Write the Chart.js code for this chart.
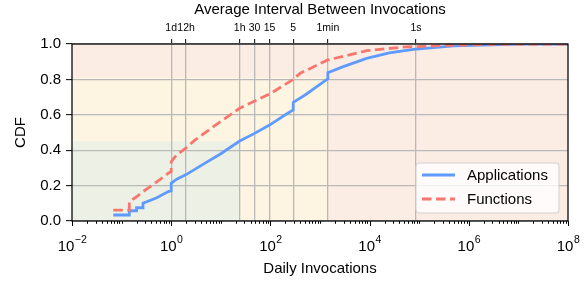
<!DOCTYPE html>
<html>
<head>
<meta charset="utf-8">
<script src="https://cdn.jsdelivr.net/npm/chart.js@4.4.0/dist/chart.umd.min.js"></script>
<style>
  html, body { margin: 0; padding: 0; background: #fff; }
  #wrap { width: 585px; height: 282px; }
</style>
</head>
<body>
<div id="wrap"><canvas id="cdf"></canvas></div>
<script>
// Daily invocations (x) vs CDF (y)
var appX = [0.068, 0.143, 0.143, 0.2, 0.2, 0.27, 0.27, 0.5, 0.875, 1.0, 1.0, 1.29, 2.0, 5, 10, 24, 48, 96, 200, 288, 288, 500, 1380, 1440, 1440, 2950, 8700, 25000, 76000, 500000, 1e7, 1e8];
var appY = [0.034, 0.034, 0.058, 0.058, 0.075, 0.075, 0.10, 0.13, 0.166, 0.17, 0.213, 0.236, 0.262, 0.33, 0.38, 0.452, 0.495, 0.542, 0.60, 0.627, 0.670, 0.712, 0.80, 0.803, 0.838, 0.872, 0.919, 0.95, 0.97, 0.989, 0.999, 1.0];

var funcX = [0.068, 0.143, 0.143, 0.2, 0.27, 0.47, 0.875, 1.0, 1.0, 1.29, 2.0, 3.0, 7.1, 24, 100, 288, 400, 1440, 8700, 41000, 76000, 1e6, 1e7, 1e8];
var funcY = [0.062, 0.062, 0.109, 0.137, 0.166, 0.213, 0.27, 0.28, 0.335, 0.373, 0.413, 0.457, 0.533, 0.637, 0.72, 0.80, 0.835, 0.91, 0.962, 0.981, 0.985, 0.996, 1.0, 1.0];

// top axis: average interval between invocations
var topTickValues = [1, 2, 24, 48, 96, 288, 1440, 86400];
var topTickLabels = ['1d', '12h', '1h', '30', '15', '5', '1min', '1s'];

// bottom axis decades that get a label
var bottomExps = [-2, 0, 2, 4, 6, 8];

// shaded regions: [x upper limit, y upper limit]
var greenBox = [24, 0.45];
var yellowBox = [1440, 0.81];

var FONT = '"Liberation Sans", Arial, sans-serif';
var GRID = '#b9b9b9';

function toPoints(xs, ys) {
    var pts = [];
    for (var i = 0; i < xs.length; i++) pts.push({x: xs[i], y: ys[i]});
    return pts;
}

var decor = {
    id: 'decor',
    beforeDraw: function(chart) {
        var ctx = chart.ctx, a = chart.chartArea;
        var xs = chart.scales.x, ys = chart.scales.y;
        ctx.save();
        ctx.fillStyle = '#fbece4';
        ctx.fillRect(a.left, a.top, a.right - a.left, a.bottom - a.top);
        var yx = xs.getPixelForValue(yellowBox[0]), yy = ys.getPixelForValue(yellowBox[1]);
        ctx.fillStyle = '#fdf5e2';
        ctx.fillRect(a.left, yy, yx - a.left, a.bottom - yy);
        var gx = xs.getPixelForValue(greenBox[0]), gy = ys.getPixelForValue(greenBox[1]);
        ctx.fillStyle = '#edf1e5';
        ctx.fillRect(a.left, gy, gx - a.left, a.bottom - gy);
        ctx.restore();
    },
    afterDraw: function(chart) {
        var ctx = chart.ctx, a = chart.chartArea;
        var xs = chart.scales.x;
        ctx.save();
        // spines
        ctx.strokeStyle = '#000';
        ctx.lineWidth = 1.25;
        ctx.strokeRect(a.left, a.top, a.right - a.left, a.bottom - a.top);

        // bottom major + minor ticks
        ctx.lineWidth = 1;
        ctx.beginPath();
        for (var e = -2; e <= 8; e++) {
            for (var k = 1; k <= 9; k++) {
                var v = k * Math.pow(10, e);
                if (v > 1e8 * 1.0001) break;
                var px = Math.round(xs.getPixelForValue(v)) + 0.5;
                var major = (k === 1 && e % 2 === 0);
                ctx.moveTo(px, a.bottom);
                ctx.lineTo(px, a.bottom + (major ? 5 : 2.8));
            }
        }
        ctx.stroke();

        // bottom labels 10^n
        ctx.fillStyle = '#000';
        ctx.textBaseline = 'alphabetic';
        for (var i = 0; i < bottomExps.length; i++) {
            var n = bottomExps[i];
            var base = '10', sup = (n < 0 ? '\u2212' : '') + Math.abs(n);
            ctx.font = '15px ' + FONT;
            var wb = ctx.measureText(base).width;
            ctx.font = '10.5px ' + FONT;
            var ws = ctx.measureText(sup).width;
            var cx = xs.getPixelForValue(Math.pow(10, n));
            var x0 = cx - (wb + ws) / 2;
            ctx.font = '15px ' + FONT;
            ctx.textAlign = 'left';
            ctx.fillText(base, x0, 251);
            ctx.font = '10.5px ' + FONT;
            ctx.fillText(sup, x0 + wb + 0.5, 243);
        }

        // legend
        var lx = 416, ly = 163, lw = 143, lh = 50, r = 3;
        ctx.beginPath();
        ctx.moveTo(lx + r, ly);
        ctx.arcTo(lx + lw, ly, lx + lw, ly + lh, r);
        ctx.arcTo(lx + lw, ly + lh, lx, ly + lh, r);
        ctx.arcTo(lx, ly + lh, lx, ly, r);
        ctx.arcTo(lx, ly, lx + lw, ly, r);
        ctx.closePath();
        ctx.fillStyle = 'rgba(255,255,255,0.8)';
        ctx.fill();
        ctx.strokeStyle = '#d0d0d0';
        ctx.lineWidth = 1;
        ctx.stroke();

        var ds = chart.data.datasets;
        var rows = [175, 199];
        for (var j = 0; j < ds.length; j++) {
            ctx.beginPath();
            ctx.strokeStyle = ds[j].borderColor;
            ctx.lineWidth = ds[j].borderWidth;
            ctx.setLineDash(ds[j].borderDash || []);
            ctx.moveTo(422, rows[j]);
            ctx.lineTo(455, rows[j]);
            ctx.stroke();
            ctx.setLineDash([]);
            ctx.fillStyle = '#000';
            ctx.font = '15px ' + FONT;
            ctx.textAlign = 'left';
            ctx.textBaseline = 'middle';
            ctx.fillText(ds[j].label, 467, rows[j] + 1);
        }
        ctx.restore();
    }
};

var chart = new Chart(document.getElementById('cdf'), {
    type: 'line',
    data: {
        datasets: [
            {
                label: 'Applications',
                data: toPoints(appX, appY),
                borderColor: '#5f9bff',
                borderWidth: 2.8,
                pointRadius: 0,
                tension: 0,
                order: 1
            },
            {
                label: 'Functions',
                data: toPoints(funcX, funcY),
                borderColor: '#f8766d',
                borderWidth: 2.8,
                borderDash: [9.5, 4.5],
                pointRadius: 0,
                tension: 0,
                order: 0
            }
        ]
    },
    options: {
        responsive: true,
        maintainAspectRatio: false,
        animation: false,
        layout: { padding: { left: 0, right: 17, top: 0, bottom: 0 } },
        plugins: { legend: { display: false }, tooltip: { enabled: false } },
        scales: {
            x: {
                type: 'logarithmic',
                position: 'bottom',
                min: 0.01,
                max: 1e8,
                grid: { display: false },
                border: { display: false },
                ticks: { display: false },
                title: {
                    display: true,
                    text: 'Daily Invocations',
                    color: '#000',
                    font: { family: FONT, size: 15 },
                    padding: { top: 0, bottom: 4 }
                },
                afterFit: function(s) { s.height = 61; }
            },
            x2: {
                type: 'logarithmic',
                position: 'top',
                min: 0.01,
                max: 1e8,
                afterBuildTicks: function(s) {
                    s.ticks = topTickValues.map(function(v) { return {value: v}; });
                },
                grid: {
                    color: GRID,
                    lineWidth: 1.3,
                    tickColor: '#000',
                    tickWidth: 1,
                    tickLength: 5
                },
                border: { display: false },
                ticks: {
                    autoSkip: false,
                    maxRotation: 0,
                    padding: 5,
                    color: '#000',
                    font: { family: FONT, size: 10.5 },
                    callback: function(v) {
                        var i = topTickValues.indexOf(v);
                        return i >= 0 ? topTickLabels[i] : '';
                    }
                },
                title: {
                    display: true,
                    text: 'Average Interval Between Invocations',
                    color: '#000',
                    font: { family: FONT, size: 15 },
                    padding: { top: 1, bottom: 0 }
                },
                afterFit: function(s) { s.height = 44; }
            },
            y: {
                min: 0,
                max: 1,
                ticks: {
                    stepSize: 0.2,
                    padding: 5,
                    color: '#000',
                    font: { family: FONT, size: 15 },
                    callback: function(v) { return v.toFixed(1); }
                },
                grid: {
                    color: GRID,
                    lineWidth: 1.3,
                    tickColor: '#000',
                    tickWidth: 1,
                    tickLength: 6
                },
                border: { display: false },
                title: {
                    display: true,
                    text: 'CDF',
                    color: '#000',
                    font: { family: FONT, size: 15 },
                    padding: { top: 12, bottom: 0 }
                },
                afterFit: function(s) { s.width = 72; }
            }
        }
    },
    plugins: [decor]
});
</script>
</body>
</html>
